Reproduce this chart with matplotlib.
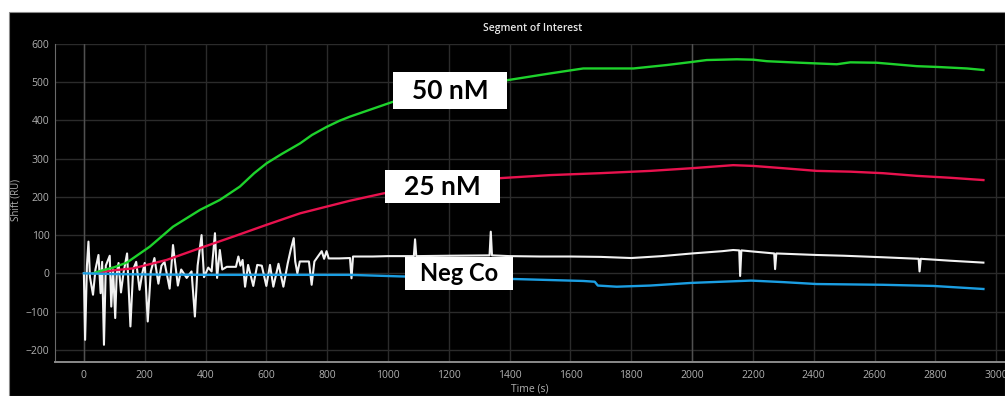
import matplotlib
matplotlib.use('Agg')
import matplotlib.pyplot as plt
from matplotlib.patches import Rectangle

# 50 nM (green)
t_50 = [30, 53, 100, 141, 217, 293, 382, 447, 513, 560, 601, 650, 711, 750, 798, 840, 875, 1017, 1100,
        1200, 1300, 1390, 1533, 1642, 1807, 1917, 1999, 2048, 2147, 2201, 2246, 2355, 2476, 2520, 2607,
        2739, 2805, 2904, 2958]
y_50 = [0, 6, 16, 28, 70, 122, 166, 192, 227, 262, 288, 312, 340, 362, 383, 399, 410, 449, 468,
        485, 497, 505, 523, 536, 536, 545, 553, 558, 560, 559, 555, 551, 547, 552, 551,
        542, 540, 536, 532]

# 25 nM (red)
t_25 = [30, 100, 162, 272, 382, 491, 601, 711, 875, 984, 1100, 1200, 1368, 1533, 1697, 1862, 1999,
        2135, 2201, 2300, 2410, 2520, 2628, 2739, 2849, 2958]
y_25 = [0, 8, 13, 35, 66, 96, 127, 157, 190, 209, 225, 238, 249, 257, 262, 268, 275,
        283, 281, 275, 268, 266, 262, 255, 250, 244]

# negative control (white)
t_neg = [0, 4, 10, 15, 20, 30, 38, 48, 55, 60, 66, 72, 85, 90, 96, 103, 108, 114, 122, 130, 142, 153,
         162, 172, 183, 192, 200, 210, 220, 232, 245, 255, 265, 282, 293, 309, 320, 338, 354, 365, 374,
         387, 395, 409, 420, 431, 438, 447, 455, 470, 500, 508, 515, 522, 530, 540, 557, 570, 585, 600,
         612, 623, 640, 656, 670, 680, 690, 695, 702, 710, 740, 749, 758, 782, 790, 798, 805, 840, 875,
         880, 885, 900, 950, 1000, 1085, 1089, 1093, 1200, 1334, 1338, 1342, 1400, 1500, 1600, 1700,
         1800, 1900, 2000, 2100, 2135, 2155, 2158, 2162, 2201, 2270, 2273, 2277, 2410, 2500, 2628,
         2745, 2748, 2752, 2849, 2958]
y_neg = [0, -174, 20, 83, -10, -56, 10, 48, -52, 30, -187, 20, 46, -87, 10, -117, 0, 27, -50, 0, 52, -139,
         10, 30, -43, 0, 27, -126, 5, 40, -27, 20, 30, -40, 74, -32, 10, -12, 5, -113, 20,
         100, -10, 15, 5, 105, -12, 61, 10, 17, 17, 44, 20, 35, -35, 22, -33, 22, 20, -33,
         22, -35, 25, -35, 25, 61, 92, 31, 0, 31, 31, -30, 31, 58, 38, 58, 39, 39, 40,
         -13, 44, 44, 44, 45, 45, 89, 45, 46, 47, 109, 47, 45, 44, 44, 43,
         40, 45, 52, 58, 61, 60, -7, 60, 57, 52, 11, 52, 48, 46, 42,
         38, 5, 38, 33, 28]

# reference channel (blue)
t_ref = [0, 100, 200, 400, 600, 800, 875, 1039, 1200, 1420, 1642, 1680, 1690, 1752, 1862, 1999,
         2194, 2300, 2410, 2628, 2793, 2958]
y_ref = [0, -2, -3, -4, -4, -4, -4, -8, -11, -15, -20, -22, -32, -35, -32, -25,
         -19, -23, -28, -30, -33, -41]

xticks = list(range(0, 3001, 200))
yticks = list(range(-200, 601, 100))

W, H = 1005, 396
fig = plt.figure(figsize=(W / 100, H / 100), dpi=100, facecolor='white')
fig.patches.append(Rectangle((9 / W, 0), 1 - 9 / W, 1 - 12 / H, transform=fig.transFigure,
                             facecolor='black', edgecolor='#8a8a8a', linewidth=0.8, zorder=-5))

ax = fig.add_axes([55 / W, 34 / H, 1 - 55 / W, 318 / H])
ax.set_zorder(1)
ax.set_facecolor('black')
ax.set_xlim(-95, 3029)
ax.set_ylim(-232, 600)
ax.set_xticks(xticks)
ax.set_yticks(yticks)
ax.grid(True, color='#2b2b2b', linewidth=1.0)
ax.set_axisbelow(True)
for s in ['top', 'right']:
    ax.spines[s].set_visible(False)
ax.spines['left'].set_color('#6a6a6a')
ax.spines['bottom'].set_color('#8a8a8a')
ax.spines['bottom'].set_linewidth(1.4)
ax.tick_params(length=0, colors='#b0b0b0', labelsize=7.5)
ax.tick_params(axis='x', pad=6)
ax.tick_params(axis='y', pad=4)
for lab in ax.get_xticklabels() + ax.get_yticklabels():
    lab.set_family('Open Sans')

ax.axvline(0, color='#505050', lw=1.0, zorder=1)
ax.axvline(2000, color='#505050', lw=1.0, zorder=1)

ax.plot(t_neg, y_neg, color='#f2f2f2', lw=1.5, zorder=2)
ax.plot(t_25, y_25, color='#e8124e', lw=1.7, zorder=3)
ax.plot(t_50, y_50, color='#1ed22c', lw=1.7, zorder=3)
ax.plot(t_ref, y_ref, color='#1b9ee2', lw=1.7, zorder=4)

boxes = [('50 nM', 1016, 1391, 430, 526),
         ('25 nM', 990, 1368, 184, 270),
         ('Neg Co', 1056, 1411, -43, 43)]
for txt, x0, x1, y0, y1 in boxes:
    ax.add_patch(Rectangle((x0, y0), x1 - x0, y1 - y0, facecolor='white', edgecolor='none', zorder=5))
    fs = 19 if 'nM' in txt else 17
    ax.text((x0 + x1) / 2, (y0 + y1) / 2, txt, ha='center', va='center', fontsize=fs,
            fontweight='bold', family='Lato', color='black', zorder=6)

fig.text(533 / W, 1 - 28 / H, 'Segment of Interest', ha='center', va='center', color='#e6e6e6',
         fontsize=7.5, fontweight='semibold', family='Open Sans', zorder=2)
fig.text(16 / W, 1 - 200 / H, 'Shift (RU)', ha='center', va='center', rotation=90, color='#b0b0b0',
         fontsize=7, family='Open Sans', zorder=2)
fig.text(530 / W, 1 - 389 / H, 'Time (s)', ha='center', va='center', color='#b0b0b0',
         fontsize=7.5, family='Open Sans', zorder=2)

fig.savefig('out.png', dpi=100, facecolor='white')
